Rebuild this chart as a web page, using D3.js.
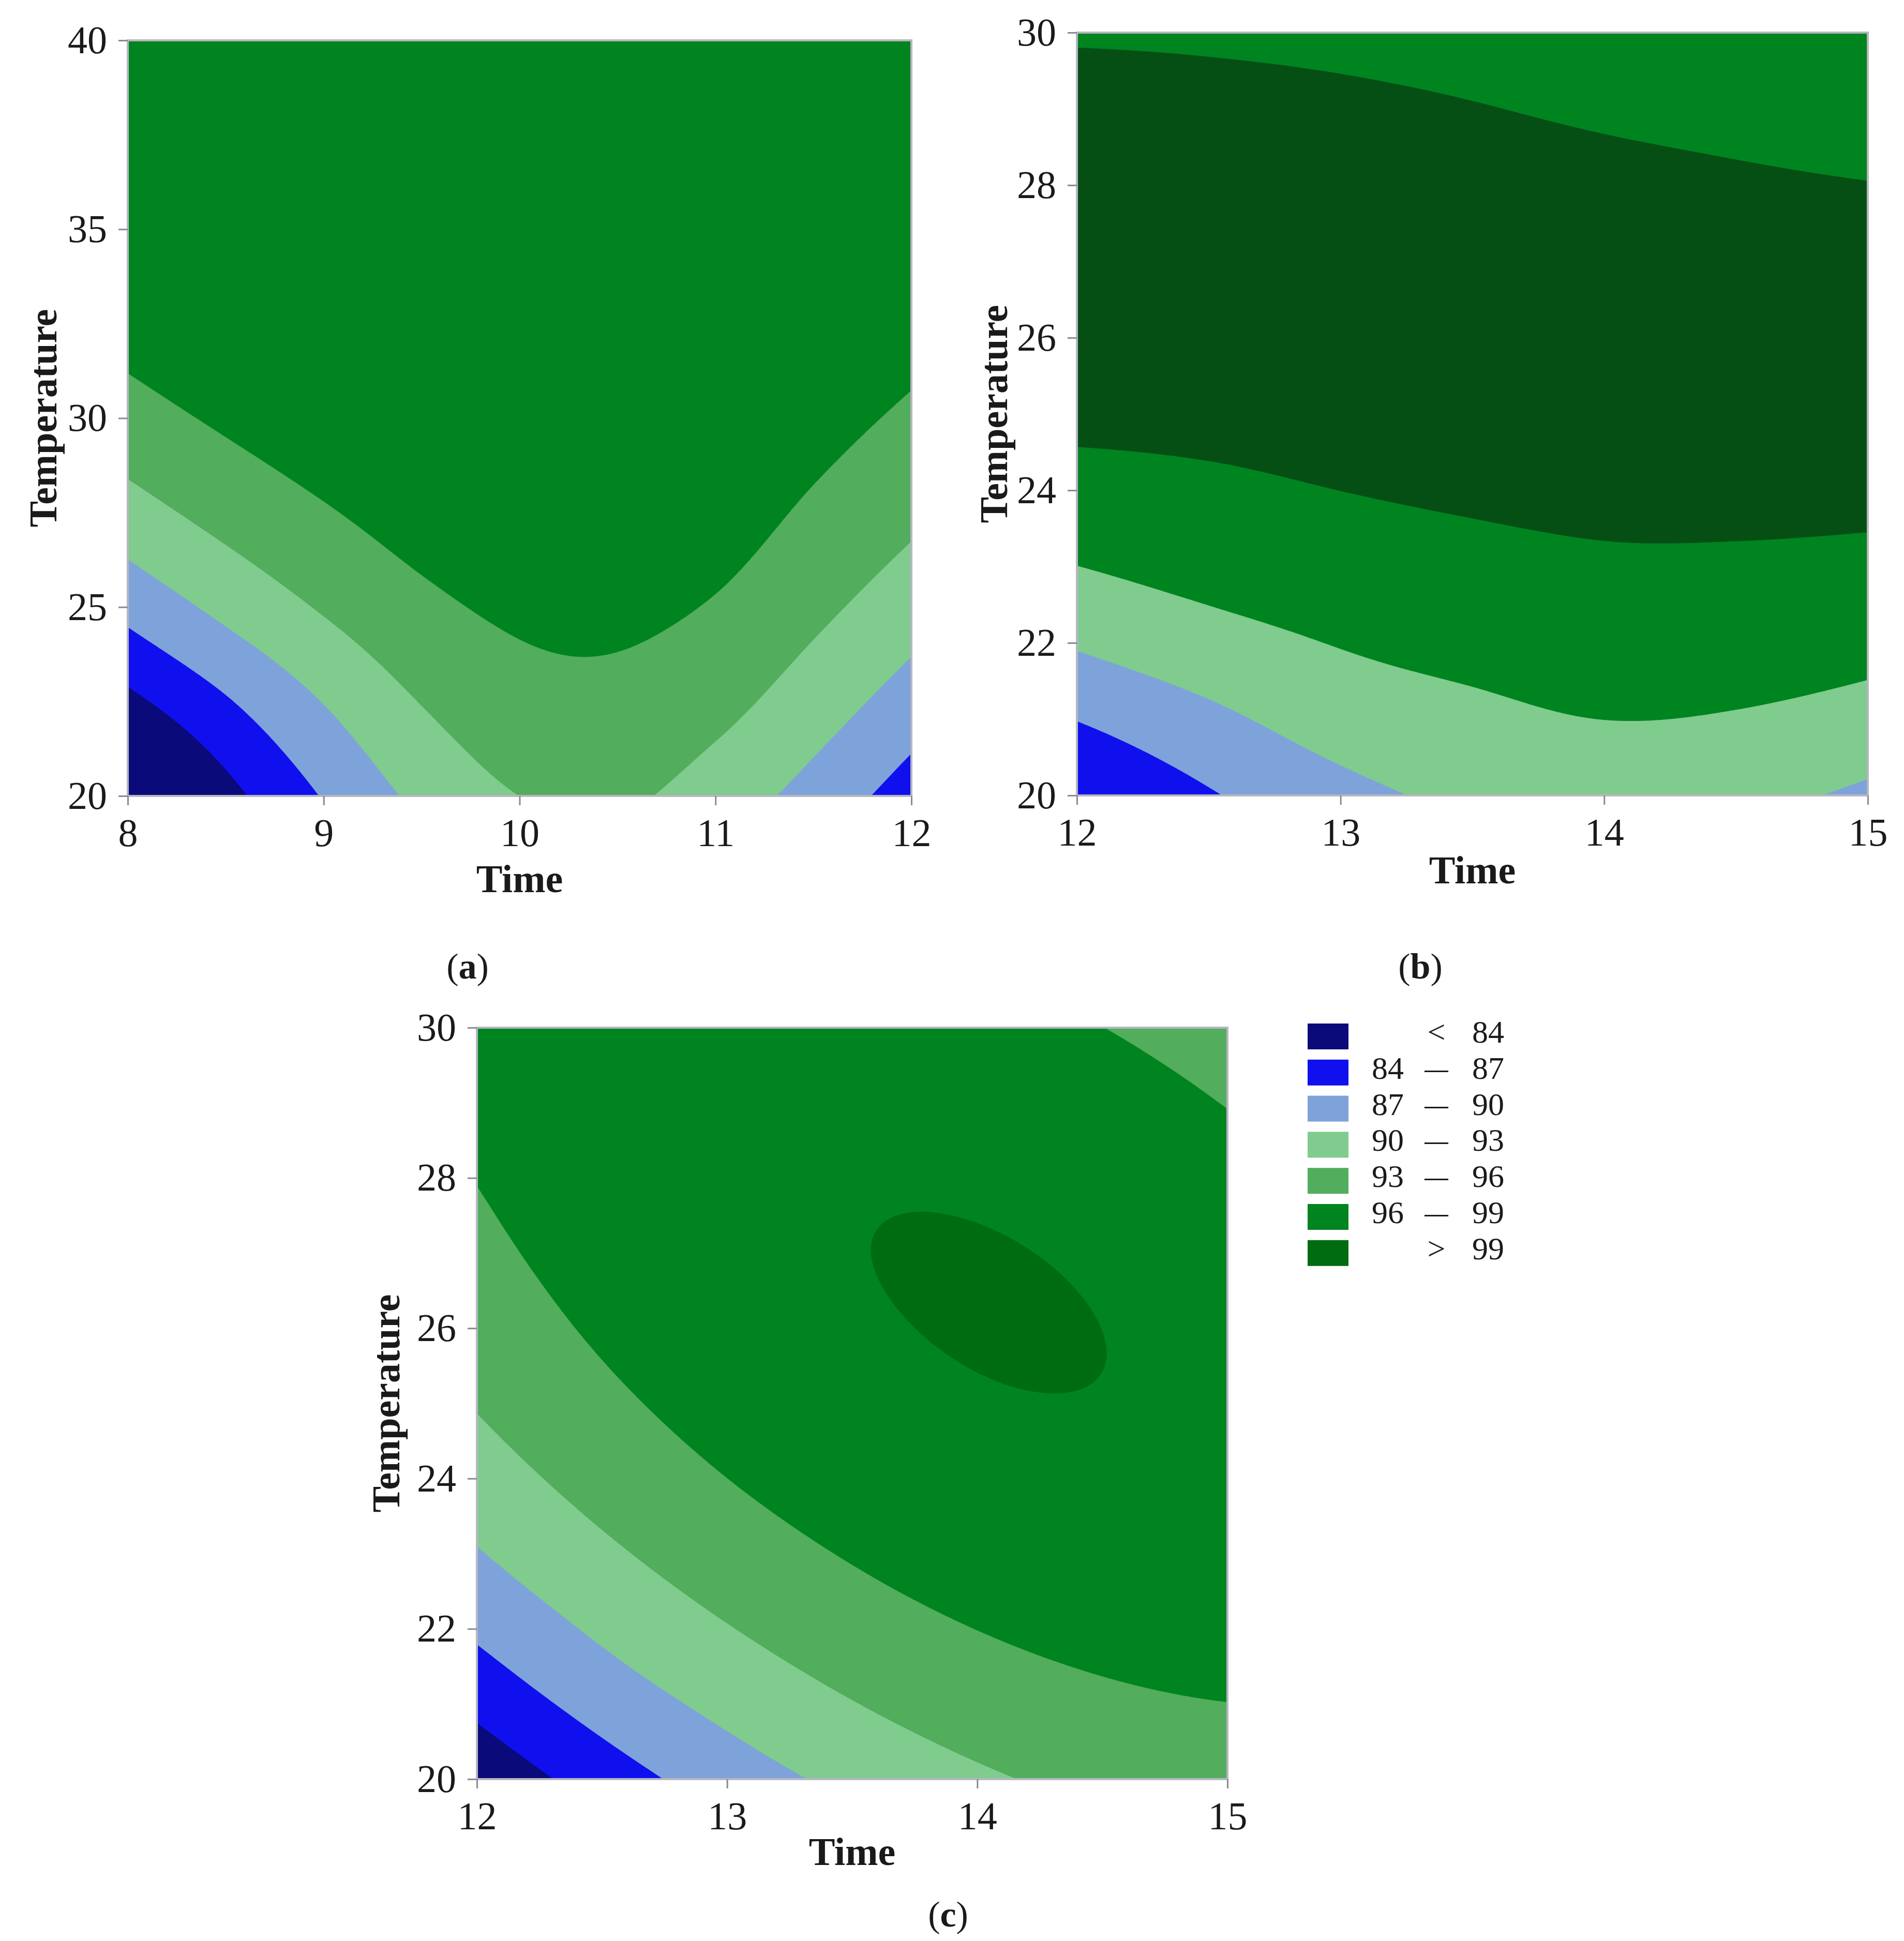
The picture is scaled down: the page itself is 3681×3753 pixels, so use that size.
<!DOCTYPE html>
<html>
<head>
<meta charset="utf-8">
<script src="https://cdn.jsdelivr.net/npm/d3@7"></script>
<style>
  body { margin: 0; background: #fff; }
  svg { display: block; }
</style>
</head>
<body>
<svg id="chart" width="3681" height="3753"></svg>
<script>
// contour classes of the legend (used by panels a and c)
const levels = [84, 87, 90, 93, 96, 99];
const levelColors = ['#0a0a7a', '#1010ee', '#7da3da', '#80cb8e', '#52ad5c', '#008420', '#006c12'];

// panel (b) uses its own, shorter colour ramp
const levelsB = [87, 90, 93, 96];
const colorsB = ['#1010ee', '#7da3da', '#80cb8e', '#008420', '#064f14'];

// panel (a): response, one row per Time value
const timeA = [8, 8.5, 9, 9.5, 10, 10.5, 11, 11.5, 12];
const tempA = [20, 22.5, 25, 27.5, 30, 32.5, 35, 37.5, 40];
const yieldA = [
  [77.6, 83.19, 87.92, 91.81, 94.85, 97.03, 98.37, 98.85, 98.48],
  [83.0, 86.72, 90.77, 94.0, 96.41, 98.0, 98.77, 98.72, 97.85],
  [87.2, 90.1, 93.28, 95.75, 97.5, 98.53, 98.85, 98.45, 97.33],
  [90.7, 93.11, 95.36, 97.06, 98.2, 98.77, 98.79, 98.24, 97.14],
  [93.0, 94.93, 96.48, 97.64, 98.42, 98.8, 98.8, 98.41, 97.64],
  [93.43, 95.19, 96.61, 97.68, 98.4, 98.79, 98.82, 98.52, 97.86],
  [91.57, 93.87, 95.74, 97.18, 98.17, 98.72, 98.84, 98.51, 97.75],
  [88.82, 91.44, 93.67, 95.5, 96.93, 97.96, 98.6, 98.85, 98.69],
  [85.46, 88.59, 91.31, 93.6, 95.49, 96.95, 98.0, 98.63, 98.85]
];

// panel (b)
const timeB = [12, 12.5, 13, 13.5, 14, 14.5, 15];
const tempB = [20, 21.25, 22.5, 23.75, 25, 26.25, 27.5, 28.75, 30];
const yieldB = [
  [83.3, 87.92, 91.69, 94.57, 96.57, 97.68, 97.91, 97.26, 95.72],
  [86.7, 89.95, 93.0, 95.16, 96.62, 97.40, 97.49, 96.90, 95.63],
  [89.1, 91.75, 93.95, 95.73, 96.8, 97.31, 97.25, 96.62, 95.43],
  [90.62, 92.7, 94.65, 96.1, 96.9, 97.2, 97.0, 96.3, 95.1],
  [91.16, 93.4, 95.12, 96.33, 97.01, 97.17, 96.82, 95.94, 94.55],
  [90.74, 93.19, 95.06, 96.35, 97.04, 97.15, 96.68, 95.61, 94.2],
  [89.36, 92.41, 94.72, 96.29, 97.12, 97.22, 96.58, 95.2, 93.8]
];

// panel (c)
const timeC = [12, 12.5, 13, 13.5, 14, 14.5, 15];
const tempC = [20, 21.25, 22.5, 23.75, 25, 26.25, 27.5, 28.75, 30];
const yieldC = [
  [81.5, 85.5, 88.73, 91.21, 93.19, 94.67, 95.75, 96.4, 96.45],
  [85.4, 88.81, 91.51, 93.70, 95.39, 96.58, 97.27, 97.45, 97.13],
  [88.44, 91.35, 93.76, 95.67, 97.07, 97.97, 98.36, 98.25, 97.64],
  [90.75, 93.37, 95.49, 97.10, 98.22, 98.82, 98.93, 98.53, 97.63],
  [92.53, 94.86, 96.69, 98.01, 98.84, 99.15, 98.97, 98.28, 97.09],
  [93.78, 95.82, 97.36, 98.40, 98.93, 98.96, 98.49, 97.51, 96.03],
  [94.51, 96.26, 97.51, 98.25, 98.50, 98.24, 97.47, 96.21, 94.44]
];

// tick labels
const ticksTimeA = [8, 9, 10, 11, 12];
const ticksTempA = [20, 25, 30, 35, 40];
const ticksTimeBC = [12, 13, 14, 15];
const ticksTempBC = [20, 22, 24, 26, 28, 30];

const serif = '"Liberation Serif", "Times New Roman", serif';
const svg = d3.select('#chart');
svg.append('rect').attr('width', 3681).attr('height', 3753).attr('fill', '#fff');

// smooth resampling of the grid (Catmull-Rom) so the filled bands come out round
function ext(arr, i) {
  let n = arr.length;
  if (i < 0) return 3 * arr[0] - 3 * arr[1] + arr[2];
  if (i >= n) return 3 * arr[n - 1] - 3 * arr[n - 2] + arr[n - 3];
  return arr[i];
}
function cr(p0, p1, p2, p3, s) {
  return 0.5 * (2 * p1 + (p2 - p0) * s + (2 * p0 - 5 * p1 + 4 * p2 - p3) * s * s +
    (3 * p1 - p0 - 3 * p2 + p3) * s * s * s);
}
function interp1(arr, u) {
  let i = Math.min(Math.floor(u), arr.length - 2);
  let s = u - i;
  return cr(ext(arr, i - 1), arr[i], arr[i + 1], ext(arr, i + 2), s);
}

function drawPanel(p) {
  let g = svg.append('g');
  let x = d3.scaleLinear().domain(d3.extent(p.times)).range([p.x0, p.x1]);
  let y = d3.scaleLinear().domain(d3.extent(p.temps)).range([p.y1, p.y0]);

  // resample the grid
  let nx = (p.times.length - 1) * p.kx + 1;
  let ny = (p.temps.length - 1) * p.ky + 1;
  let values = new Float64Array(nx * ny);
  for (let j = 0; j < ny; j++) {
    let v = (p.temps.length - 1) * (1 - j / (ny - 1));
    let row = p.grid.map(col => interp1(col, v));
    for (let i = 0; i < nx; i++) values[j * nx + i] = interp1(row, i / p.kx);
  }
  let bands = d3.contours().size([nx, ny]).thresholds(p.levels)(values);

  let tOf = d3.scaleLinear().domain([0, nx - 1]).range(x.domain());
  let TOf = d3.scaleLinear().domain([0, ny - 1]).range([y.domain()[1], y.domain()[0]]);
  let path = d3.geoPath(d3.geoTransform({
    point: function (px, py) { this.stream.point(x(tOf(px)), y(TOf(py))); }
  }));

  g.append('clipPath').attr('id', 'clip-' + p.id)
    .append('rect').attr('x', p.x0).attr('y', p.y0)
    .attr('width', p.x1 - p.x0).attr('height', p.y1 - p.y0);

  let plot = g.append('g').attr('clip-path', `url(#clip-${p.id})`);
  plot.append('rect').attr('x', p.x0).attr('y', p.y0)
    .attr('width', p.x1 - p.x0).attr('height', p.y1 - p.y0)
    .attr('fill', p.colors[0]);
  plot.selectAll('path.band').data(bands).enter().append('path')
    .attr('class', 'band')
    .attr('d', path)
    .attr('fill', (d, i) => p.colors[i + 1]);

  // frame
  g.append('rect').attr('x', p.x0).attr('y', p.y0)
    .attr('width', p.x1 - p.x0).attr('height', p.y1 - p.y0)
    .attr('fill', 'none').attr('stroke', '#b6b6c2').attr('stroke-width', 4);

  // axes
  let styleAxis = a => {
    a.select('.domain').remove();
    a.attr('font-family', serif).attr('font-size', 76);
    a.selectAll('line').attr('stroke', '#8a8a96').attr('stroke-width', 3);
    a.selectAll('text').attr('fill', '#1a1a1a');
  };
  g.append('g').attr('transform', `translate(0,${p.y1})`)
    .call(d3.axisBottom(x).tickValues(p.xTicks).tickFormat(d3.format('d'))
      .tickSize(18).tickSizeOuter(0).tickPadding(25))
    .call(styleAxis);
  g.append('g').attr('transform', `translate(${p.x0},0)`)
    .call(d3.axisLeft(y).tickValues(p.yTicks).tickFormat(d3.format('d'))
      .tickSize(18).tickSizeOuter(0).tickPadding(22))
    .call(styleAxis);

  // axis titles
  g.append('text')
    .attr('x', (p.x0 + p.x1) / 2).attr('y', p.y1 + p.titleGap)
    .attr('text-anchor', 'middle').attr('font-family', serif)
    .attr('font-weight', 'bold').attr('font-size', 76).attr('fill', '#1a1a1a')
    .text('Time');
  g.append('text')
    .attr('transform', `translate(${p.x0 - p.yTitleGap},${(p.y0 + p.y1) / 2}) rotate(-90)`)
    .attr('text-anchor', 'middle').attr('font-family', serif)
    .attr('font-weight', 'bold').attr('font-size', 76).attr('fill', '#1a1a1a')
    .text('Temperature');

  // panel letter
  let lab = g.append('text')
    .attr('x', p.labelX).attr('y', p.labelY)
    .attr('text-anchor', 'middle').attr('font-family', serif)
    .attr('font-size', 70).attr('fill', '#1a1a1a');
  lab.append('tspan').text('(');
  lab.append('tspan').attr('font-weight', 'bold').text(p.id);
  lab.append('tspan').text(')');
}

drawPanel({
  id: 'a', times: timeA, temps: tempA, grid: yieldA,
  levels: levels, colors: levelColors,
  x0: 247, x1: 1762, y0: 78, y1: 1539, kx: 40, ky: 40,
  xTicks: ticksTimeA, yTicks: ticksTempA,
  titleGap: 186, yTitleGap: 138, labelX: 904, labelY: 1892
});
drawPanel({
  id: 'b', times: timeB, temps: tempB, grid: yieldB,
  levels: levelsB, colors: colorsB,
  x0: 2082, x1: 3611, y0: 63, y1: 1538, kx: 50, ky: 40,
  xTicks: ticksTimeBC, yTicks: ticksTempBC,
  titleGap: 170, yTitleGap: 135, labelX: 2746, labelY: 1892
});
drawPanel({
  id: 'c', times: timeC, temps: tempC, grid: yieldC,
  levels: levels, colors: levelColors,
  x0: 922, x1: 2373, y0: 1987, y1: 3440, kx: 50, ky: 40,
  xTicks: ticksTimeBC, yTicks: ticksTempBC,
  titleGap: 166, yTitleGap: 150, labelX: 1833, labelY: 3725
});

// legend
let legend = svg.append('g').attr('font-family', serif).attr('font-size', 62).attr('fill', '#1a1a1a');
let last = levels.length;
let rows = levelColors.map((c, i) => ({
  color: c,
  lo: (i === 0 || i === last) ? '' : String(levels[i - 1]),
  mid: i === 0 ? '<' : (i === last ? '>' : '\u2013'),
  hi: i === last ? String(levels[i - 1]) : String(levels[i])
}));
let item = legend.selectAll('g').data(rows).enter().append('g')
  .attr('transform', (d, i) => `translate(2528,${1979 + i * 69.8})`);
item.append('rect').attr('width', 79).attr('height', 50).attr('fill', d => d.color);
item.append('text').attr('x', 186).attr('y', 37).attr('text-anchor', 'end').text(d => d.lo);
item.append('text')
  .attr('transform', d => d.mid === '\u2013' ? 'translate(249,37) scale(1.45,1)' : 'translate(249,37)')
  .attr('text-anchor', 'middle').text(d => d.mid);
item.append('text').attr('x', 318).attr('y', 37).attr('text-anchor', 'start').text(d => d.hi);
</script>
</body>
</html>
